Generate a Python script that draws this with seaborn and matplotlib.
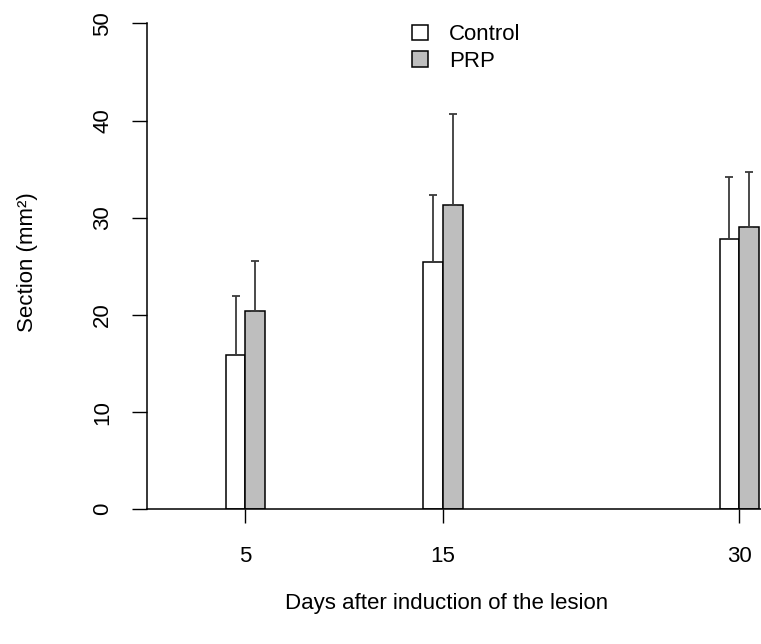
import matplotlib
matplotlib.use("Agg")
import matplotlib.pyplot as plt
import seaborn as sns
import pandas as pd
import numpy as np

days = [5, 15, 30]
groups = ["Control", "PRP"]
control_mean = [15.9, 25.4, 27.8]
prp_mean = [20.4, 31.3, 29.0]
control_err = [6.0, 6.9, 6.4]
prp_err = [5.1, 9.4, 5.7]
y_ticks = [0, 10, 20, 30, 40, 50]

sns.set_theme(style="white")
plt.rcParams["font.family"] = ["Liberation Sans", "DejaVu Sans"]
plt.rcParams["text.color"] = "black"
plt.rcParams["xtick.labelcolor"] = "black"
plt.rcParams["ytick.labelcolor"] = "black"

df = pd.DataFrame({
    "day": days * 2,
    "group": ["Control"] * 3 + ["PRP"] * 3,
    "value": control_mean + prp_mean,
    "err": control_err + prp_err,
})

fig = plt.figure(figsize=(7.61, 6.44), dpi=100)
ax = fig.add_axes([146.7 / 761, (644 - 509.3) / 644, (761 - 146.7) / 761, (509.3 - 23.3) / 644])

sns.barplot(data=df, x="day", y="value", hue="group", native_scale=True, width=0.2,
            palette={"Control": "white", "PRP": "#bebebe"}, edgecolor="black",
            linewidth=1.1, errorbar=None, ax=ax, legend=True)

# error bars (upper only), positioned from the drawn bars
bars = [p for p in ax.patches if p.get_height() > 0]
for p in bars:
    xc = p.get_x() + p.get_width() / 2
    h = p.get_height()
    row = df[np.isclose(df["value"], h)].iloc[0]
    ax.errorbar([xc], [h], yerr=[[0], [row["err"]]], fmt="none", ecolor="#3a3a3a",
                elinewidth=1.3, capsize=3.2, capthick=1.3, zorder=1)

ax.set_xlim(0, 31.1)
ax.set_ylim(0, 50)
ax.set_xticks(days)
ax.set_xticklabels([str(d) for d in days])
ax.set_yticks(y_ticks)
ax.set_yticklabels([str(t) for t in y_ticks])

for s in ["top", "right"]:
    ax.spines[s].set_visible(False)
ax.spines["left"].set_bounds(0, 50)
for s in ["left", "bottom"]:
    ax.spines[s].set_color("black")
    ax.spines[s].set_linewidth(1.1)

ax.tick_params(axis="x", direction="out", length=10, width=1.0, color="black",
               labelsize=16, pad=16.5, bottom=True, labelcolor="black")
ax.tick_params(axis="y", direction="out", length=10.5, width=1.0, color="black",
               labelsize=16, pad=13.5, left=True, labelrotation=90, labelcolor="black")
for lab in ax.get_yticklabels():
    lab.set_va("center")

ax.set_xlabel("")
ax.set_ylabel("")
fig.text(447 / 761, 1 - 603 / 644, "Days after induction of the lesion", ha="center",
         va="center", fontsize=16, color="black")
fig.text(28 / 761, 1 - 262 / 644, "Section (mm²)", ha="center", va="center",
         rotation=90, fontsize=16, color="black")

leg = ax.legend(loc="upper left", bbox_to_anchor=(401 / 761, 1 - 13 / 644),
                bbox_transform=fig.transFigure, frameon=False, fontsize=16,
                handlelength=0.7, handleheight=0.7, handletextpad=0.95,
                labelspacing=0.25, borderpad=0)
for t in leg.get_texts():
    t.set_color("black")

fig.savefig("out.png", dpi=100)
